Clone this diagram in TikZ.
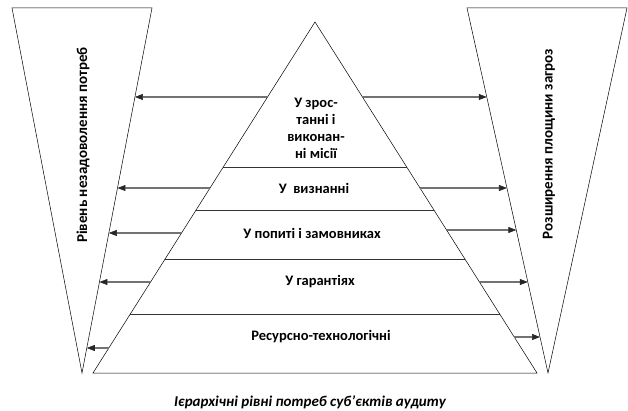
\documentclass[tikz,border=0pt]{standalone}
\usepackage{fontspec}
\setmainfont{Carlito}
\usetikzlibrary{arrows.meta,calc}
\begin{document}
\begin{tikzpicture}[x=1pt,y=-1pt,
  outline/.style={draw=black,line width=0.5pt},
  layerline/.style={draw=black!80,line width=0.8pt},
  arr/.style={draw=black!85,double=white,double distance=0.7pt,line width=0.6pt,
              -{Triangle[length=8pt,width=6pt]}},
  lbl/.style={font=\bfseries\fontsize{14.5}{17}\selectfont,align=center,inner sep=0pt},
  vlbl/.style={font=\bfseries\fontsize{15}{17}\selectfont,rotate=90,inner sep=0pt}]
\useasboundingbox (0,0) rectangle (628,411);

% pyramid
\coordinate (apex) at (315,22);
\coordinate (bl) at (93,373);
\coordinate (br) at (537,373);
\draw[outline] (apex) -- (bl) -- (br) -- cycle;

% left and right funnels
\coordinate (l1) at (12,8);
\coordinate (l2) at (152,8);
\coordinate (la) at (82,373);
\draw[outline] (l1) -- (l2) -- (la) -- cycle;
\coordinate (r1) at (467,8);
\coordinate (r2) at (627,8);
\coordinate (ra) at (548,373);
\draw[outline] (r1) -- (r2) -- (ra) -- cycle;

% layer boundaries
\foreach \i/\t in {1/0.4131,2/0.5356,3/0.6752,4/0.8319}{
  \coordinate (sL\i) at ($(apex)!\t!(bl)$);
  \coordinate (sR\i) at ($(apex)!\t!(br)$);
  \draw[layerline] (sL\i) -- (sR\i);
}

% arrows to the left funnel
\foreach \i/\tp/\tf in {1/0.2137/0.2438,2/0.4729/0.4932,3/0.6011/0.6164,4/0.7407/0.7507,5/0.9288/0.9315}{
  \coordinate (pL\i) at ($(apex)!\tp!(bl)$);
  \coordinate (fL\i) at ($(l2)!\tf!(la)$);
  \draw[arr] (pL\i) -- (fL\i);
}
% arrows to the right funnel
\foreach \i/\tp/\tf in {1/0.2137/0.2438,2/0.4729/0.4932,3/0.5926/0.6082,4/0.7407/0.7507,5/0.8974/0.9014}{
  \coordinate (pR\i) at ($(apex)!\tp!(br)$);
  \coordinate (fR\i) at ($(r1)!\tf!(ra)$);
  \draw[arr] (pR\i) -- (fR\i);
}

% layer labels
\node[lbl] (mission) at (316,128) {У зрос-\\танні і\\виконан-\\ні місії};
\node[lbl] (recog) at (314,188) {У\ \ визнанні};
\node[lbl] (demand) at (312,233) {У попиті і замовниках};
\node[lbl] (guar) at (320,282) {У гарантіях};
\node[lbl] (res) at (321,337) {Ресурсно-технологічні};

% funnel labels
\node[vlbl] (needs) at (83,145) {Рівень незадоволення потреб};
\node[vlbl] (threats) at (549,144) {Розширення площини загроз};

% caption
\node[font=\bfseries\itshape\fontsize{15}{17}\selectfont,inner sep=0pt] (cap) at (310,402)
  {Ієрархічні рівні потреб суб’єктів аудиту};
\end{tikzpicture}
\end{document}
